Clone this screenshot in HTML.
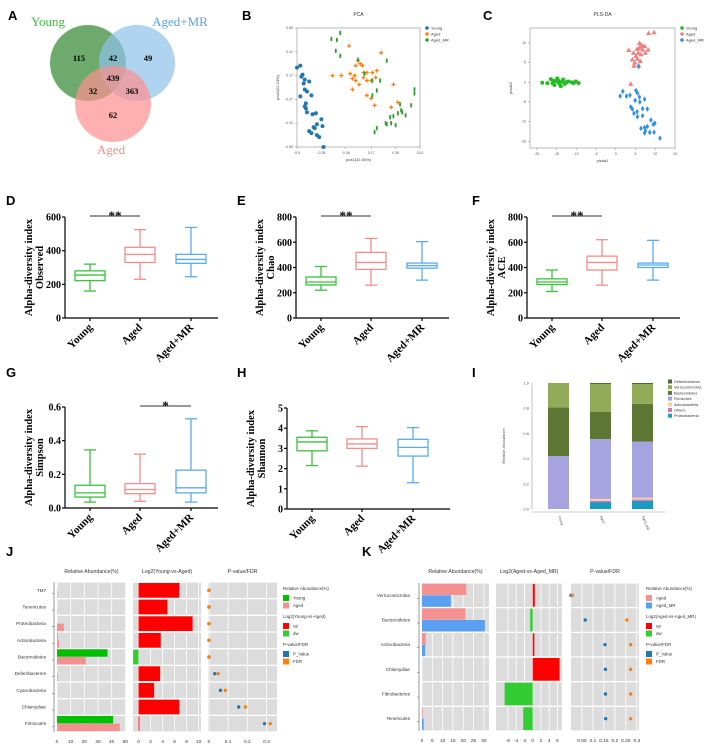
<!DOCTYPE html>
<html><head><meta charset="utf-8"><style>
body{margin:0;background:#fff}
svg{display:block}
.ser{font-family:"Liberation Serif",serif;font-weight:bold}
.san{font-family:"Liberation Sans",sans-serif}
</style></head><body>
<svg id="fig" width="708" height="749" viewBox="0 0 708 749" xmlns="http://www.w3.org/2000/svg"></svg>
<script>
// ---------- DATA ----------
const vennLabels=["Young","Aged+MR","Aged"];
const vennCounts=[115,42,49,439,32,363,62];
const pcaYoung=[[-0.50,0.25],[-0.47,0.27],[-0.45,0.18],[-0.46,0.16],[-0.43,0.13],[-0.39,0.11],[-0.43,0.03],[-0.47,-0.04],[-0.37,-0.03],[-0.42,-0.11],[-0.42,-0.16],[-0.41,-0.20],[-0.36,-0.22],[-0.33,-0.21],[-0.28,-0.27],[-0.32,-0.32],[-0.35,-0.35],[-0.39,-0.39],[-0.37,-0.41],[-0.34,-0.36],[-0.27,-0.34],[-0.32,-0.43],[-0.30,-0.45],[-0.26,-0.55],[-0.44,0.09],[-0.41,0.01],[-0.43,-0.14]];
const pcaAged=[[-0.18,0.17],[-0.10,0.17],[-0.03,0.47],[-0.02,0.19],[0.0,0.14],[0.02,0.17],[0.03,0.27],[0.05,0.32],[0.07,0.29],[0.09,0.27],[0.10,0.20],[0.13,0.20],[0.18,0.20],[0.22,0.22],[0.26,0.40],[0.06,0.08],[0.13,0.12],[0.17,0.12],[0.21,0.15],[0.0,0.03],[0.13,-0.03],[0.17,-0.06],[0.20,-0.13],[0.37,0.08],[0.41,-0.10],[0.35,-0.15],[0.10,0.15],[0.03,0.12]];
const pcaAgedMR=[[-0.19,0.54],[-0.14,0.53],[-0.11,0.60],[-0.15,0.42],[-0.11,0.37],[0.05,0.33],[0.11,0.19],[0.18,0.12],[0.25,0.12],[0.31,0.32],[0.22,0.02],[0.56,0.03],[0.56,-0.01],[0.53,-0.13],[0.43,-0.12],[0.44,-0.18],[0.48,-0.23],[0.45,-0.20],[0.41,-0.21],[0.37,-0.24],[0.34,-0.25],[0.30,-0.31],[0.31,-0.32],[0.35,-0.31],[0.39,-0.33],[0.22,-0.36],[0.20,-0.40],[0.18,-0.03]];
const pcaXTicks=[-0.5,-0.28,-0.06,0.17,0.39,0.61];
const pcaYTicks=[0.65,0.41,0.17,-0.07,-0.31,-0.55];
const plsYoung=[[-18.6,-0.1],[-17.3,-0.2],[-16.4,0.8],[-16.0,-0.2],[-15.5,-0.7],[-15.1,0.4],[-14.8,1.0],[-14.5,0.0],[-14.2,-0.4],[-13.9,-1.0],[-13.6,0.2],[-13.3,0.7],[-12.9,-0.4],[-12.5,0.0],[-12.0,0.2],[-11.1,0.0],[-10.7,-0.2],[-10.1,0.2],[-9.4,-0.2],[-14.6,0.5],[-15.7,0.3]];
const plsAged=[[8.3,12.5],[9.7,12.7],[3.3,8.2],[6.0,10],[6.4,9.6],[7.3,9.2],[5.4,8.5],[6.8,8.3],[5.7,7.5],[8.2,8.3],[4.5,7.5],[6.4,7.1],[5.1,6.7],[7.5,7.5],[4.2,5.8],[5.5,6.0],[6.2,5.4],[4.8,5.0],[4.6,4.2],[5.8,4.3],[3.8,-0.4],[6.8,9.2],[6.0,8.75]];
const plsAgedMR=[[5.8,4.0],[1.8,-2.3],[1.1,-3.5],[2.7,-3.5],[3.6,-3.3],[5.1,-2.1],[5.5,-2.75],[6.0,-3.75],[4.9,-4.6],[6.1,-5],[7.3,-4.3],[3.8,-6.25],[4.2,-6.8],[5.4,-7.5],[6.8,-6.7],[8.0,-6.8],[5.5,-8.75],[6.8,-8.5],[8.9,-9.6],[9.5,-10.7],[7.3,-11.5],[8.0,-11.25],[6.4,-11.7],[7.5,-12.3],[8.6,-12.75],[7.3,-12.9],[9.7,-12.7],[11.2,-14.2],[9.9,-10.4],[4.6,-7.9]];
const plsXTicks=[-20,-15,-10,-5,0,5,10,15];
const plsYTicks=[10,5,0,-5,-10,-15];
const boxGroups=["Young","Aged","Aged+MR"];
// [min,q1,median,q3,max]
const obsYoung=[160,222,255,280,320], obsAged=[230,330,378,420,525], obsMR=[245,325,348,378,538];
const chaoYoung=[220,262,285,325,408], chaoAged=[260,385,440,520,630], chaoMR=[300,395,415,435,605];
const aceYoung=[210,265,285,310,380], aceAged=[260,380,440,490,620], aceMR=[300,400,420,435,615];
const simYoung=[0.035,0.065,0.09,0.135,0.345], simAged=[0.04,0.085,0.11,0.145,0.32], simMR=[0.035,0.09,0.12,0.225,0.53];
const shaYoung=[2.15,2.88,3.32,3.55,3.87], shaAged=[2.12,3.0,3.22,3.47,4.08], shaMR=[1.3,2.62,3.05,3.45,4.03];
const obsTicks=[0,200,400,600], chaoTicks=[0,200,400,600,800], simTicks=[0,0.2,0.4,0.6], shaTicks=[0,1,2,3,4,5];
const phylaNames=["Proteobacteria","Others","Actinobacteria","Firmicutes","Bacteroidetes","Verrucomicrobia","Deferribacteres"];
const stackGroups=["Young","Aged","Aged_MR"];
const stackYoung=[0,0,0,0.42,0.385,0.195,0];
const stackAged=[0.055,0.01,0.015,0.475,0.215,0.22,0.01];
const stackMR=[0.065,0.01,0.015,0.445,0.30,0.155,0.01];
const stackTicks=[0,0.2,0.4,0.6,0.8,1.0];
const jTaxa=["TM7","Tenericutes","Proteobacteria","Actinobacteria","Bacteroidetes","Deferribacteres","Cyanobacteria","Chlamydiae","Firmicutes"];
const jYoung=[0,0,0,0.3,37,0,0,0,41];
const jAged=[0.3,0.2,5,1.5,21,0.5,0,0,46];
const jLog2=[6.8,4.8,9.0,3.7,-0.9,3.6,2.6,6.8,0.15];
const jP=[0,0,0,0,0,0.03,0.06,0.155,0.29];
const jFDR=[0,0,0,0,0,0.048,0.085,0.19,0.32];
const kTaxa=["Verrucomicrobia","Bacteroidetes","Actinobacteria","Chlamydiae","Fibrobacteres","Tenericutes"];
const kAged=[21.5,21,1.8,0,0,0.3];
const kMR=[14,30.5,1.5,0,0,0.8];
const kLog2=[0.5,-0.6,0.4,6.5,-6.8,-2.3];
const kP=[0.0,0.065,0.155,0.157,0.157,0.158];
const kFDR=[0.006,0.255,0.272,0.272,0.272,0.272];

// ---------- HELPERS ----------
const NS="http://www.w3.org/2000/svg";
const svg=document.getElementById('fig');
function el(tag,attrs,parent){const e=document.createElementNS(NS,tag);for(const k in attrs)e.setAttribute(k,attrs[k]);(parent||svg).appendChild(e);return e;}
function txt(x,y,s,size,opts,parent){const o=Object.assign({x:x,y:y,'font-size':size},opts||{});const t=el('text',o,parent);t.textContent=s;return t;}
function lin(min,max,a,b){return v=>a+(v-min)/(max-min)*(b-a);}

// Panel letters
[["A",8,20],["B",242,20],["C",483,20],["D",6,205],["E",237,205],["F",472,205],["G",6,377],["H",237,377],["I",472,377],["J",6,556],["K",362,556]].forEach(p=>{
 const t=txt(p[1],p[2],p[0],13,{'font-family':'Liberation Sans, sans-serif','font-weight':'bold'});
 
 
});

// ---------- A: Venn ----------
const gA=el('g',{});


const vennCircles=[[88,63,'#3e8e3e',0.75],[137,63,'#8fc0ea',0.7],[113,104,'#fd8f8f',0.7]];
vennCircles.forEach((c,i)=>{const ci=el('circle',{cx:c[0],cy:c[1],r:38,fill:c[2],'fill-opacity':c[3]},gA);
 
 });
const vennLabelPos=[[48,26,'#3cc13c'],[180,26,'#5aa0ea'],[111,154,'#f48a8a']];
vennLabels.forEach((s,i)=>{const t=txt(vennLabelPos[i][0],vennLabelPos[i][1],s,13,{'text-anchor':'middle',fill:vennLabelPos[i][2],'font-family':'Liberation Serif, serif'},gA);
 
 });
const vennNumPos=[[79,61],[113,61],[148,61],[113,81],[93,94],[132,94],[113,118]];
vennCounts.forEach((n,i)=>{const t=txt(vennNumPos[i][0],vennNumPos[i][1],String(n),8.5,{'text-anchor':'middle',class:'ser'},gA);
 
 });

// ---------- Scatter panels ----------
function scatterPanel(name,title,box,xd,yd,xt,yt,series,colors,shapes,legendNames,xlabel,ylabel){
 const g=el('g',{});
 
 
 const X=lin(xd[0],xd[1],box[0],box[2]), Y=lin(yd[0],yd[1],box[3],box[1]);
 const t=txt((box[0]+box[2])/2,box[1]-12,title,5,{'text-anchor':'middle',class:'san',fill:'#333'},g);
 
 
 const r=el('rect',{x:box[0],y:box[1],width:box[2]-box[0],height:box[3]-box[1],fill:'none',stroke:'#aaa','stroke-width':0.8},g);
 
 
 xt.forEach(v=>{const x=X(v);el('line',{x1:x,x2:x,y1:box[3],y2:box[3]+2,stroke:'#888','stroke-width':0.5},g);
  const l=txt(x,box[3]+7,String(v),3.5,{'text-anchor':'middle',class:'san',fill:'#555'},g);
  
  });
 yt.forEach(v=>{const y=Y(v);el('line',{x1:box[0]-2,x2:box[0],y1:y,y2:y,stroke:'#888','stroke-width':0.5},g);
  const l=txt(box[0]-4,y+1,String(v),3.5,{'text-anchor':'end',class:'san',fill:'#555'},g);
  
  });
 const xl=txt((box[0]+box[2])/2,box[3]+14,xlabel,4,{'text-anchor':'middle',class:'san',fill:'#444'},g);
 
 
 const yx=box[0]-18, yy=(box[1]+box[3])/2;
 const yl=txt(yx,yy,ylabel,4,{'text-anchor':'middle',class:'san',fill:'#444',transform:`rotate(-90 ${yx} ${yy})`},g);
 
 
 series.forEach((pts,si)=>{pts.forEach(p=>{
   const x=X(p[0]),y=Y(p[1]);let m;
   if(shapes[si]==='circle')m=el('circle',{cx:x,cy:y,r:2,fill:colors[si]},g);
   else if(shapes[si]==='tri')m=el('polygon',{points:`${x},${y-2.6} ${x-2.6},${y+2} ${x+2.6},${y+2}`,fill:colors[si]},g);
   else if(shapes[si]==='plus')m=el('path',{d:`M${x-2},${y}h4M${x},${y-2}v4`,stroke:colors[si],'stroke-width':1.3},g);
   else if(shapes[si]==='dplus')m=el('path',{d:`M${x-1},${y}h2M${x},${y-2.2}v4.4`,stroke:colors[si],'stroke-width':1.6},g);
   else m=el('polygon',{points:`${x},${y-2.8} ${x-1.8},${y} ${x},${y+2.8} ${x+1.8},${y}`,fill:colors[si]},g);
   
   
 });});
 legendNames.forEach((s,i)=>{const ly=box[1]+i*6;
  const mk=el('circle',{cx:box[2]+7,cy:ly,r:1.8,fill:colors[i]},g);
  
  
  const lt=txt(box[2]+11,ly+1.5,s,4,{class:'san',fill:'#333'},g);
  
  });
}
scatterPanel('pca','PCA',[297,28,420,147],[-0.5,0.61],[-0.55,0.65],pcaXTicks,pcaYTicks,[pcaYoung,pcaAged,pcaAgedMR],['#1f77b4','#ff7f0e','#2ca02c'],['circle','plus','dplus'],['Young','Aged','Aged_MR'],'pca1(32.80%)','pca2(22.24%)');
scatterPanel('plsda','PLS-DA',[530,28,675,148],[-21.7,15],[-16.7,13.8],plsXTicks,plsYTicks,[plsYoung,plsAged,plsAgedMR],['#1fbf1f','#f08080','#2f8fef'],['circle','tri','dia'],['Young','Aged','Aged_MR'],'plsda1','plsda2');

// ---------- Box plots ----------
function boxPanel(name,ax,top,bot,xEnd,yMax,ticks,groups,label2,sig){
 const g=el('g',{});
 
 
 const Y=lin(0,yMax,bot,top);
 const xs=[ax+25,ax+75,ax+126];
 el('line',{x1:ax,x2:ax,y1:top,y2:bot,stroke:'#000','stroke-width':1.2},g);
 el('line',{x1:ax,x2:xEnd,y1:bot,y2:bot,stroke:'#000','stroke-width':1.2},g);
 ticks.forEach(v=>{const y=Y(v);el('line',{x1:ax-3,x2:ax,y1:y,y2:y,stroke:'#000','stroke-width':1.2},g);
  const l=txt(ax-4,y+3.5,String(v===0&&yMax<1?'0.0':v),10,{'text-anchor':'end',class:'ser'},g);
  
  });
 const cols=['#3cc13c','#f58b8b','#5aaaf5'];
 groups.forEach((d,i)=>{const x=xs[i],w=15;
  el('line',{x1:x,x2:x,y1:bot,y2:bot+3,stroke:'#000','stroke-width':1.2},g);
  const b=el('g',{},g);
  
  
  el('line',{x1:x,x2:x,y1:Y(d[0]),y2:Y(d[1]),stroke:cols[i],'stroke-width':1.3},b);
  el('line',{x1:x,x2:x,y1:Y(d[3]),y2:Y(d[4]),stroke:cols[i],'stroke-width':1.3},b);
  el('line',{x1:x-6,x2:x+6,y1:Y(d[0]),y2:Y(d[0]),stroke:cols[i],'stroke-width':1.3},b);
  el('line',{x1:x-6,x2:x+6,y1:Y(d[4]),y2:Y(d[4]),stroke:cols[i],'stroke-width':1.3},b);
  el('rect',{x:x-w,y:Y(d[3]),width:2*w,height:Y(d[1])-Y(d[3]),fill:'#fff',stroke:cols[i],'stroke-width':1.3},b);
  el('line',{x1:x-w,x2:x+w,y1:Y(d[2]),y2:Y(d[2]),stroke:cols[i],'stroke-width':1.3},b);
  const tl=txt(x+3,bot+10,boxGroups[i],11,{'text-anchor':'end',class:'ser',transform:`rotate(-45 ${x+3} ${bot+10})`},g);
  
  });
 const yx=ax-33,yy=(top+bot)/2;
 const yl=txt(yx,yy,'Alpha-diversity index',10.5,{'text-anchor':'middle',class:'ser',transform:`rotate(-90 ${yx} ${yy})`},g);
 
 
 const yl2=txt(yx+11,yy,label2,10.5,{'text-anchor':'middle',class:'ser',transform:`rotate(-90 ${yx+11} ${yy})`},g);
 
 
 if(sig){const x1=xs[sig[0]],x2=xs[sig[1]];
  const sl=el('line',{x1:x1,x2:x2,y1:top-1,y2:top-1,stroke:'#333','stroke-width':1},g);
  
  
  const st=txt((x1+x2)/2,top+3,sig[2],13,{'text-anchor':'middle',class:'ser'},g);
  
  }
}
boxPanel('observed',65,217,318,218,600,obsTicks,[obsYoung,obsAged,obsMR],'Observed',[0,1,'**']);
boxPanel('chao',296,217,318,449,800,chaoTicks,[chaoYoung,chaoAged,chaoMR],'Chao',[0,1,'**']);
boxPanel('ace',527,217,318,680,800,chaoTicks,[aceYoung,aceAged,aceMR],'ACE',[0,1,'**']);
boxPanel('simpson',65,407,508,218,0.6,simTicks,[simYoung,simAged,simMR],'Simpson',[1,2,'*']);
boxPanel('shannon',287,408,509,450,5,shaTicks,[shaYoung,shaAged,shaMR],'Shannon',null);

// ---------- I: stacked bars ----------
(function(){
 const g=el('g',{});
 
 
 const top=383,bot=509,ax=532;const Y=lin(0,1,bot,top);
 const cols=['#1b9bc0','#d36fc6','#f3d3a3','#a7a3e0','#5c7733','#92ab58','#4d6a2c'];
 el('line',{x1:ax,x2:ax,y1:top,y2:bot,stroke:'#999','stroke-width':0.6},g);
 el('line',{x1:ax,x2:665,y1:bot+3,y2:bot+3,stroke:'#999','stroke-width':0.6},g);
 stackTicks.forEach(v=>{const l=txt(ax-3,Y(v)+1.5,v.toFixed(1),4,{'text-anchor':'end',class:'san',fill:'#555'},g);
  
  });
 const yt=txt(505,446,'Relative Abundance',4,{'text-anchor':'middle',class:'san',fill:'#555',transform:'rotate(-90 505 446)'},g);
 
 
 const xs=[548,590,632];
 [stackYoung,stackAged,stackMR].forEach((vals,gi)=>{let acc=0;
  vals.forEach((v,k)=>{if(v<=0)return;const r=el('rect',{x:xs[gi],y:Y(acc+v),width:21,height:Y(acc)-Y(acc+v),fill:cols[k]},g);
   
   acc+=v;});
  const tx=xs[gi]+10,ty=bot+7;
  const l=txt(tx,ty,stackGroups[gi],3.5,{class:'san',fill:'#555',transform:`rotate(70 ${tx} ${ty})`},g);
  
  });
 for(let k=6;k>=0;k--){const ly=383+(6-k)*5.7;
  const m=el('rect',{x:668,y:ly-3.5,width:4,height:4,fill:cols[k]},g);
  
  
  const t=txt(674,ly,phylaNames[k],3.8,{class:'san',fill:'#333'},g);
  
  }
})();

// ---------- J/K differential panels ----------
function diffPanel(name,taxa,top,bot,labelX,p1,p2,p3,a1,a2,lg,pv,fdr,d1,d2,d3,titles,legend,legX,cA,cB){
 const g=el('g',{});
 
 
 const n=taxa.length,rh=(bot-top)/n;
 const X1=lin(d1[0],d1[1],p1[0],p1[1]),X2=lin(d2[0],d2[1],p2[0],p2[1]),X3=lin(d3[0],d3[1],p3[0],p3[1]);
 [p1,p2,p3].forEach((p,pi)=>{
  const tt=txt((p[0]+p[1])/2,573,titles[pi],5.2,{'text-anchor':'middle',class:'san',fill:'#333'},g);
  
  
  for(let i=0;i<n;i++){el('rect',{x:p[0],y:top+i*rh+0.6,width:p[1]-p[0],height:rh-1.2,fill:'#dcdcdc'},g);}
  p[2].forEach(v=>{const X=[X1,X2,X3][pi];const x=X(v);
   el('line',{x1:x,x2:x,y1:top,y2:bot,stroke:'#fff','stroke-width':0.8},g);
   const l=txt(x,bot+11,String(v),4.8,{'text-anchor':'middle',class:'san',fill:'#333'},g);
   
   });
  for(let i=0;i<=n;i++){}
 });
 el('line',{x1:p1[0]-3,x2:p1[0]-3,y1:top,y2:bot,stroke:'#555','stroke-width':0.6},g);
 taxa.forEach((t,i)=>{const yc=top+i*rh+rh/2;
  const lt=txt(labelX,yc+1.5,t,4.6,{'text-anchor':'end',class:'san',fill:'#333'},g);
  
  
  el('line',{x1:p1[0]-5,x2:p1[0]-3,y1:yc+3,y2:yc+3,stroke:'#555','stroke-width':0.5},g);
  const bh=(rh-1.2)/2-0.3, y0=top+i*rh+0.6;
  if(a1[i]>0){const r=el('rect',{x:X1(0),y:y0,width:X1(a1[i])-X1(0),height:bh,fill:cA},g);
   
   }
  if(a2[i]>0){const r=el('rect',{x:X1(0),y:y0+bh+0.3,width:X1(a2[i])-X1(0),height:bh,fill:cB},g);
   
   }
  const v=lg[i];const r2=el('rect',{x:Math.min(X2(0),X2(v)),y:y0+0.4,width:Math.abs(X2(v)-X2(0)),height:rh-2,fill:v>=0?'#ff0000':'#33cc33'},g);
  
  
  const c1=el('circle',{cx:X3(pv[i]),cy:yc,r:1.7,fill:'#1f77b4'},g);
  
  
  const c2=el('circle',{cx:X3(fdr[i]),cy:yc,r:1.7,fill:'#ff7f0e'},g);
  
  
 });
 let ly=590;
 legend.forEach(sec=>{const h=txt(legX,ly,sec[0],4.4,{class:'san',fill:'#333'},g);
  
  ly+=5;
  sec[1].forEach(it=>{const s=el('rect',{x:legX,y:ly,width:6,height:6,fill:it[1]},g);
   
   
   const t=txt(legX+10,ly+4.5,it[0],4.4,{class:'san',fill:'#333'},g);
   
   ly+=7.5;});
  ly+=8;});
}
diffPanel('j',jTaxa,582,732,46,[57,126,[0,10,20,30,40,50]],[133,201,[0,2,4,6,8,10]],[208,277,[0.0,0.1,0.2,0.3]],jYoung,jAged,jLog2,jP,jFDR,[0,50.5],[-0.92,10.4],[-0.005,0.355],
 ['Relative Abundance(%)','Log2(Young-vs-Aged)','P-value/FDR'],
 [['Relative Abundance(%)',[['Young','#00c000'],['Aged','#f59090']]],['Log2(Young-vs-Aged)',[['up','#ff0000'],['dw','#33cc33']]],['P-value/FDR',[['P_Value','#1f77b4'],['FDR','#ff7f0e']]]],283,'#00c000','#f59090');
diffPanel('k',kTaxa,583,731,410,[422,489,[0,5,10,15,20,25,30]],[496,562,[-6,-4,-2,0,2,4,6]],[571,639,[0.05,0.10,0.15,0.20,0.25,0.30]],kAged,kMR,kLog2,kP,kFDR,[0,32.5],[-8.9,7.1],[0,0.31],
 ['Relative Abundance(%)','Log2(Aged-vs-Aged_MR)','P-value/FDR'],
 [['Relative Abundance(%)',[['Aged','#f59090'],['Aged_MR','#5aa0f0']]],['Log2(Aged-vs-Aged_MR)',[['up','#ff0000'],['dw','#33cc33']]],['P-value/FDR',[['P_Value','#1f77b4'],['FDR','#ff7f0e']]]],646,'#f59090','#5aa0f0');
</script>
</body></html>
